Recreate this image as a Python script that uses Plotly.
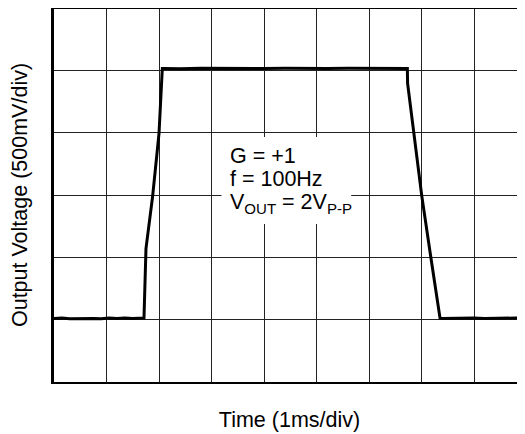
import plotly.graph_objects as go

# scope trace: time in ms, output in volts (500mV/div, 1ms/div)
time_ms = [0.0, 0.15, 0.3, 0.45, 0.6, 0.75, 0.9, 1.05, 1.2, 1.35, 1.5, 1.65, 1.714,
           1.752, 1.88, 2.0, 2.063, 2.1, 2.4, 2.8, 3.2, 3.6, 4.0, 4.4, 4.8, 5.2,
           5.6, 6.0, 6.4, 6.73, 6.735, 6.857, 7.004, 7.181, 7.352, 7.39, 7.6,
           7.8, 8.0, 8.2, 8.4, 8.6, 8.8, 9.0]
volts = [-0.99, -0.987, -0.992, -0.99, -0.986, -0.99, -0.992, -0.987, -0.99, -0.986, -0.99, -0.988, -0.987,
         -0.43, -0.005, 0.495, 1.015, 1.015, 1.013, 1.017, 1.015, 1.013, 1.015, 1.017, 1.013, 1.015,
         1.017, 1.015, 1.013, 1.015, 0.895, 0.5, -0.005, -0.51, -0.987, -0.99, -0.987,
         -0.99, -0.986, -0.99, -0.988, -0.992, -0.987, -0.99]

label_lines = ["G = +1", "f = 100Hz", "V<sub>OUT</sub> = 2V<sub>P-P</sub>"]
label_y = [0.313, 0.128, -0.072]

title_font = dict(family="Arial, Liberation Sans, sans-serif", size=21.5, color="black")
label_font = dict(family="Arial, Liberation Sans, sans-serif", size=21.5, color="black")

fig = go.Figure()
fig.add_trace(go.Scatter(x=time_ms, y=volts, mode="lines",
                         line=dict(color="black", width=3), hoverinfo="skip"))

# white box behind the settings text
fig.add_shape(type="rect", x0=3.19, x1=5.66, y0=-0.233, y1=0.465,
              fillcolor="white", line_width=0, layer="above")
# top border (the plot runs off the right edge, so no right border)
fig.add_shape(type="line", xref="paper", yref="paper", x0=0, x1=1, y0=1, y1=1,
              line=dict(color="black", width=2))

for txt, y in zip(label_lines, label_y):
    fig.add_annotation(x=3.32, y=y, text=txt, showarrow=False, xanchor="left",
                       yanchor="middle", font=label_font)

fig.update_xaxes(range=[0, 8.971], dtick=1, showticklabels=False, ticks="",
                 showgrid=True, gridcolor="#222", gridwidth=1, zeroline=False,
                 showline=True, linecolor="black", linewidth=2, automargin=False,
                 title=dict(text="Time (1ms/div)", font=title_font, standoff=29))
fig.update_yaxes(range=[-1.5, 1.5], dtick=0.5, showticklabels=False, ticks="",
                 showgrid=True, gridcolor="#222", gridwidth=1, zeroline=False,
                 showline=True, linecolor="black", linewidth=3, automargin=False,
                 title=dict(text="Output Voltage (500mV/div)", font=title_font, standoff=22))

# page puts the figure 8px in from the top-left corner
fig.update_layout(width=517, height=426, showlegend=False,
                  margin=dict(l=46, r=0, t=0, b=52),
                  plot_bgcolor="white", paper_bgcolor="white", font=title_font)

fig.write_html("out.html")
